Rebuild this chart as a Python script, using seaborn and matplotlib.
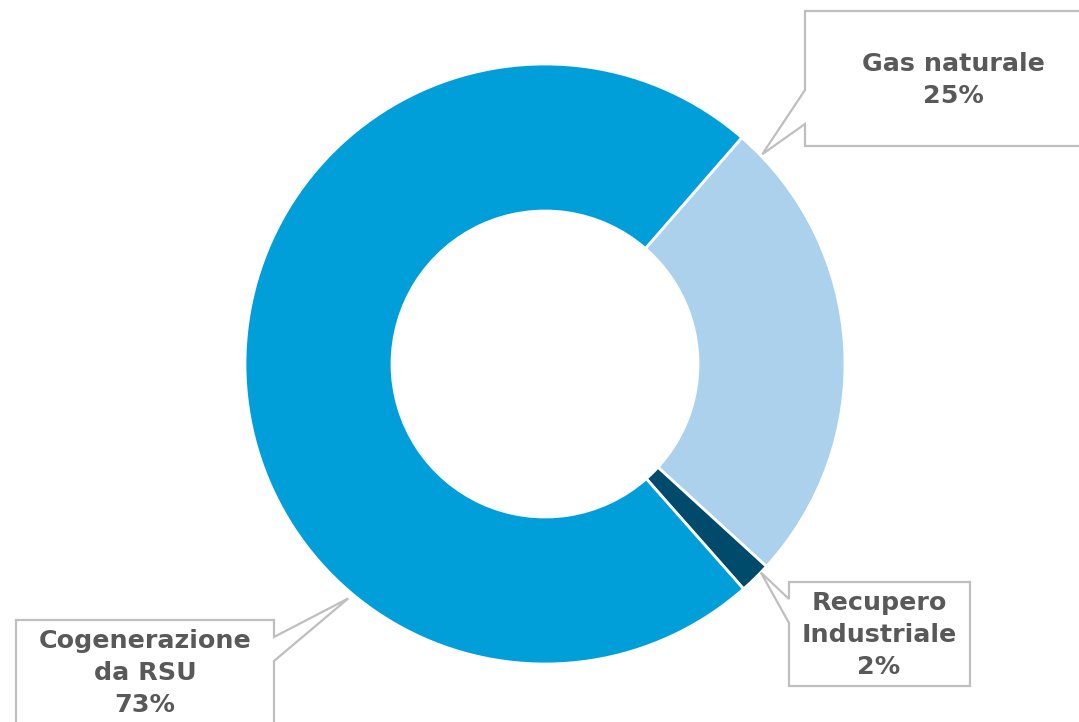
import numpy as np
import matplotlib
matplotlib.use("Agg")
import matplotlib.pyplot as plt
from matplotlib.patches import Polygon
import seaborn as sns

# ---- data ----
categories = ["Gas naturale", "Recupero\nIndustriale", "Cogenerazione\nda RSU"]
values = [25.4, 1.7, 72.9]
pct_labels = ["25%", "2%", "73%"]
colors = ["#ABD1EC", "#004B6B", "#009FDA"]

sns.set_theme(style="white")
plt.rcParams['font.family'] = ['DejaVu Sans']

W, H = 1079, 722
fig = plt.figure(figsize=(W / 100, H / 100), dpi=100)
ax = fig.add_axes([0, 0, 1, 1])

cx, cy, R = 545, H - 364, 300
ax.pie(values, colors=colors, startangle=49, counterclock=False,
       center=(cx, cy), radius=R,
       wedgeprops=dict(width=R * 0.49, edgecolor="white", linewidth=2.0))

ax.set_xlim(0, W)
ax.set_ylim(0, H)
ax.set_aspect('equal')
ax.axis('off')

# callout layout (pixel coords, y from top): box, pointer base on box side, pointer tip angle
callouts = [
    # (x0, y0, x1, y1, side, base_y0, base_y1, tip_angle_deg, tip_r, text_x, text_y)
    (805, 11, 1090, 146, "left", 90, 124, 44.0, 302, 953, 80),
    (789, 582, 970, 686, "left", 599, 623, -44.0, 300, 879, 635),
    (16, 620, 274, 740, "right", 637, 661, -130.0, 306, 145, 673),
]

edge = "#BFBFBF"
for (x0, y0, x1, y1, side, b0, b1, ang, tr, tx, ty), cat, pct in zip(callouts, categories, pct_labels):
    tipx = cx + tr * np.cos(np.radians(ang))
    tipy = cy + tr * np.sin(np.radians(ang))
    Y = lambda y: H - y
    if side == "left":
        pts = [(x0, Y(y0)), (x1, Y(y0)), (x1, Y(y1)), (x0, Y(y1)),
               (x0, Y(b1)), (tipx, tipy), (x0, Y(b0))]
    else:
        pts = [(x0, Y(y0)), (x1, Y(y0)), (x1, Y(b0)), (tipx, tipy),
               (x1, Y(b1)), (x1, Y(y1)), (x0, Y(y1))]
    poly = Polygon(pts, closed=True, facecolor="white", edgecolor=edge,
                   linewidth=1.6, joinstyle="miter", zorder=5)
    ax.add_patch(poly)
    ax.text(tx, Y(ty), f"{cat}\n{pct}", ha="center", va="center",
            fontsize=18.3, fontweight="bold", color="#595959",
            linespacing=1.4, zorder=6)

fig.savefig("out.png", dpi=100)
